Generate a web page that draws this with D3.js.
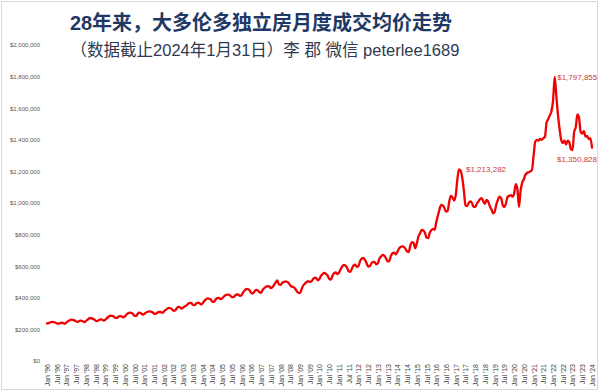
<!DOCTYPE html>
<html><head><meta charset="utf-8">
<script src="https://cdn.jsdelivr.net/npm/d3@7/dist/d3.min.js"></script>
<style>
html,body{margin:0;padding:0;background:#fff;}
svg{display:block;}
</style></head>
<body>
<svg id="c" width="600" height="392"></svg>
<script>
// ---- DATA (monthly average price, thousands of dollars) ----
const startYear = 1996;
const unit = 1000;
const prices = [
  // 1996
  238,240,244,247,246,244,238,236,240,242,240,236,
  // 1997
  245,252,258,262,260,257,250,248,254,256,252,246,
  // 1998
  252,262,270,272,268,264,255,252,260,264,262,256,
  // 1999
  262,272,280,287,286,283,274,272,280,284,282,276,
  // 2000
  282,294,302,306,305,298,286,285,300,306,302,294,
  // 2001
  298,306,312,314,312,308,300,298,306,310,310,304,
  // 2002
  312,322,330,336,334,328,318,320,334,342,340,332,
  // 2003
  338,346,352,362,368,366,356,354,364,370,366,358,
  // 2004
  366,380,390,396,394,388,376,375,390,398,400,392,
  // 2005
  396,408,416,420,420,414,405,404,414,422,420,412,
  // 2006
  418,436,448,456,454,446,430,428,442,450,446,435,
  // 2007
  432,450,462,470,474,472,462,468,482,498,510,484,
  // 2008
  482,494,500,504,500,494,478,470,468,458,442,432,
  // 2009
  430,456,478,490,500,506,500,504,518,528,524,510,
  // 2010
  520,540,552,558,552,540,520,515,540,556,560,550,
  // 2011
  560,580,598,608,604,590,568,565,585,604,610,596,
  // 2012
  600,632,648,652,640,620,598,600,618,628,626,612,
  // 2013
  620,648,662,672,666,650,630,632,665,682,686,675,
  // 2014
  690,712,722,726,722,710,694,690,730,752,748,714,
  // 2015
  745,788,808,830,826,812,780,778,812,828,836,830,
  // 2016
  880,920,960,988,984,968,945,950,1010,1045,1035,1015,
  // 2017
  1050,1150,1213.282,1205,1160,1080,985,980,1000,1010,1000,975,
  // 2018
  975,995,1010,1025,1030,1010,995,1020,1010,980,960,935,
  // 2019
  945,990,1020,1040,1030,985,975,1000,1040,1045,1050,1040,
  // 2020
  1060,1120,1090,975,1080,1130,1150,1180,1190,1195,1200,1210,
  // 2021
  1300,1388,1400,1395,1405,1400,1410,1420,1510,1530,1555,1580,
  // 2022
  1650,1797.855,1680,1560,1470,1400,1380,1395,1370,1395,1385,1340,
  // 2023
  1335,1450,1480,1560,1540,1450,1440,1455,1420,1425,1405,1410,
  // 2024
  1350.828
];
const yTicks = [0,200000,400000,600000,800000,1000000,1200000,1400000,1600000,1800000,2000000];
const xTickLabels = [
  "Jan '96","Jul '96","Jan '97","Jul '97","Jan '98","Jul '98","Jan '99","Jul '99",
  "Jan '00","Jul '00","Jan '01","Jul '01","Jan '02","Jul '02","Jan '03","Jul '03",
  "Jan '04","Jul '04","Jan '05","Jul '05","Jan '06","Jul '06","Jan '07","Jul '07",
  "Jan '08","Jul '08","Jan '09","Jul '09","Jan '10","Jul '10","Jan '11","Jul '11",
  "Jan '12","Jul '12","Jan '13","Jul '13","Jan '14","Jul '14","Jan '15","Jul '15",
  "Jan '16","Jul '16","Jan '17","Jul '17","Jan '18","Jul '18","Jan '19","Jul '19",
  "Jan '20","Jul '20","Jan '21","Jul '21","Jan '22","Jul '22","Jan '23","Jul '23",
  "Jan '24"
];
const tickStep = 6; // months between labels
const annotations = [ // month index, value label
  {m: 254, label: "$1,213,282", pos: "right"},
  {m: 313, label: "$1,797,855", pos: "right"},
  {m: 336, label: "$1,350,828", pos: "below"}
];
const titleText = "28年来，大多伦多独立房月度成交均价走势";
const subtitleText = "（数据截止2024年1月31日）李 郡 微信 peterlee1689";

// ---- DRAW ----
const svg = d3.select("#c");
const data = prices.map((v,i)=>({m:i, v:v*unit}));

const x = d3.scaleLinear().domain([0, prices.length-1]).range([47, 592]);
const y = d3.scaleLinear().domain([0, 2000000]).range([361, 45]);

// outer border
svg.append("rect").attr("x",1.5).attr("y",1.5).attr("width",596).attr("height",388)
  .attr("fill","#fff").attr("stroke","#d9d9d9").attr("stroke-width",1);

// title
svg.append("text").attr("x",261).attr("y",30).attr("text-anchor","middle")
  .attr("font-family","'Liberation Sans','Noto Sans CJK SC',sans-serif")
  .attr("font-weight","bold").attr("font-size",20).attr("fill","#1f3864")
  .text(titleText);
svg.append("text").attr("x",265).attr("y",56).attr("text-anchor","middle")
  .attr("font-family","'Liberation Sans','Noto Sans CJK SC',sans-serif")
  .attr("font-size",16.5).attr("fill","#2e3a50")
  .text(subtitleText);

// y axis
const yAxis = d3.axisLeft(y).tickValues(yTicks).tickFormat(d3.format("$,.0f")).tickSize(0).tickPadding(0);
const gy = svg.append("g").attr("transform","translate(40,0)").call(yAxis);
gy.select(".domain").remove();
gy.selectAll("text").attr("font-family","'Liberation Sans',sans-serif").attr("font-size",6).attr("fill","#595959");

// x axis
const xTickVals = xTickLabels.map((_,i)=>i*tickStep);
const xAxis = d3.axisBottom(x).tickValues(xTickVals).tickFormat((d,i)=>xTickLabels[i]).tickSize(0).tickPadding(0);
const gx = svg.append("g").attr("transform","translate(0,364)").call(xAxis);
gx.select(".domain").remove();
gx.selectAll("text")
  .attr("font-family","'Liberation Sans',sans-serif").attr("font-size",7).attr("fill","#404040")
  .attr("text-anchor","end").attr("transform","rotate(-90)")
  .attr("x",0).attr("y",0).attr("dy","0.35em");

// line
const line = d3.line().x(d=>x(d.m)).y(d=>y(d.v)).curve(d3.curveMonotoneX);
svg.append("path").datum(data).attr("d",line)
  .attr("fill","none").attr("stroke","#f00000").attr("stroke-width",2.3)
  .attr("stroke-linejoin","round").attr("stroke-linecap","round");

// annotations
annotations.forEach(a=>{
  const px = x(a.m), py = y(prices[a.m]*unit);
  const t = svg.append("text")
    .attr("font-family","'Liberation Sans',sans-serif").attr("font-size",8)
    .attr("fill","#c8403d").text(a.label);
  if(a.pos==="right"){
    t.attr("x", px + (a.m===313?2.5:7)).attr("y", py).attr("dy","0.35em");
  } else {
    t.attr("x", px + 5).attr("y", py + 11.5).attr("dy","0.35em").attr("text-anchor","end");
  }
});
</script>
</body></html>
